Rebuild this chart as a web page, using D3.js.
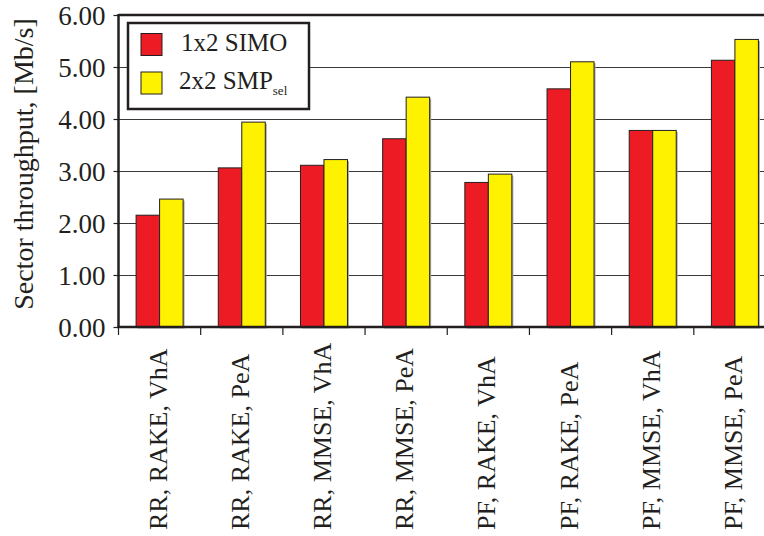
<!DOCTYPE html>
<html>
<head>
<meta charset="utf-8">
<script src="https://cdn.jsdelivr.net/npm/d3@7"></script>
<style>
html,body{margin:0;padding:0;background:#fff;}
svg{display:block;}
text{font-family:"Liberation Serif","Times New Roman",serif;fill:#231f20;}
</style>
</head>
<body>
<svg id="chart" width="764" height="536"></svg>
<script>
const categories = ["RR, RAKE, VhA","RR, RAKE, PeA","RR, MMSE, VhA","RR, MMSE, PeA","PF, RAKE, VhA","PF, RAKE, PeA","PF, MMSE, VhA","PF, MMSE, PeA"];
const simo = [2.15, 3.06, 3.11, 3.62, 2.78, 4.58, 3.78, 5.13];
const smp  = [2.46, 3.94, 3.22, 4.42, 2.94, 5.10, 3.78, 5.53];
const yTicks = [0,1,2,3,4,5,6];
const seriesNames = ["1x2 SIMO","2x2 SMP"];
const colors = ["#ed1c24","#fff200"];

(function(){
const svg = d3.select("#chart");
const mLeft = 118.5, mRight = 776, mTop = 15, mBottom = 327;

const x = d3.scaleBand().domain(categories).range([mLeft, mRight]).paddingInner(0).paddingOuter(0);
const y = d3.scaleLinear().domain([0,6]).range([mBottom, mTop]);
const inner = d3.scaleBand().domain([0,1]).range([0, 47]);
const offset = (x.bandwidth() - 47)/2;

// gridlines
svg.append("g").selectAll("line").data(yTicks.filter(d=>d>0 && d<6)).join("line")
  .attr("x1", mLeft).attr("x2", mRight)
  .attr("y1", d=>Math.round(y(d))+0.5).attr("y2", d=>Math.round(y(d))+0.5)
  .attr("stroke","#3a3a3a").attr("stroke-width",1.2);

// bars
const data = categories.map((c,i)=>({c, vals:[simo[i], smp[i]]}));
const groups = svg.append("g").selectAll("g").data(data).join("g")
  .attr("transform", d=>`translate(${x(d.c)+offset},0)`);
groups.selectAll("rect.sh").data(d=>d.vals).join("rect").attr("class","sh")
  .attr("x",(d,i)=>inner(i)+1.5).attr("y",d=>y(d)+1.5)
  .attr("width",inner.bandwidth()).attr("height",d=>mBottom-y(d))
  .attr("fill","#a8a8a8");
groups.selectAll("rect.b").data(d=>d.vals).join("rect").attr("class","b")
  .attr("x",(d,i)=>inner(i)).attr("y",d=>y(d))
  .attr("width",inner.bandwidth()).attr("height",d=>mBottom-y(d))
  .attr("fill",(d,i)=>colors[i]).attr("stroke","#231f20").attr("stroke-width",1);

// top border
svg.append("line").attr("x1",mLeft).attr("x2",mRight).attr("y1",mTop).attr("y2",mTop)
  .attr("stroke","#231f20").attr("stroke-width",2.5);

// y axis
const yAxis = d3.axisLeft(y).tickValues(yTicks).tickFormat(d3.format(".2f")).tickSize(5).tickPadding(8);
const ya = svg.append("g").attr("transform",`translate(${mLeft},0)`).call(yAxis);
ya.select(".domain").attr("stroke","#231f20").attr("stroke-width",2.5).attr("d",`M0,${mTop-1}V${mBottom}`);
ya.selectAll(".tick line").attr("stroke","#231f20").attr("stroke-width",1.2);
ya.selectAll(".tick text").style("font-size","27px").attr("font-family",null).attr("fill","#231f20").attr("dy","0.36em");

// x axis
const xa = svg.append("g").attr("transform",`translate(0,${mBottom})`);
xa.append("line").attr("x1",mLeft-1).attr("x2",mRight).attr("y1",0).attr("y2",0)
  .attr("stroke","#231f20").attr("stroke-width",2.5);
const edges = categories.map(c=>x(c)).concat([mRight]);
xa.selectAll("line.t").data(edges).join("line").attr("class","t")
  .attr("x1",d=>d).attr("x2",d=>d).attr("y1",0).attr("y2",8)
  .attr("stroke","#231f20").attr("stroke-width",1.2);
xa.selectAll("text").data(categories).join("text")
  .attr("transform",d=>`translate(${x(d)+x.bandwidth()/2+7},${530-mBottom}) rotate(-90)`)
  .style("font-size","26px")
  .text(d=>d);

// y title
svg.append("text")
  .attr("transform",`translate(33,164) rotate(-90)`)
  .attr("text-anchor","middle")
  .style("font-size","28px")
  .text("Sector throughput, [Mb/s]");

// legend
const lg = svg.append("g");
lg.append("rect").attr("x",128).attr("y",23).attr("width",181).attr("height",86)
  .attr("fill","#fff").attr("stroke","#231f20").attr("stroke-width",2.5);
[0,1].forEach(i=>{
  lg.append("rect").attr("x",141).attr("y",33.5+i*38.5).attr("width",21).attr("height",22)
    .attr("fill",colors[i]).attr("stroke","#231f20").attr("stroke-width",1);
});
lg.append("text").attr("x",181).attr("y",51).style("font-size","25px").text(seriesNames[0]);
const t2 = lg.append("text").attr("x",179).attr("y",89).style("font-size","25px");
t2.append("tspan").text(seriesNames[1]);
t2.append("tspan").attr("dy",6).style("font-size","13px").text("sel");
})();
</script>
</body>
</html>
